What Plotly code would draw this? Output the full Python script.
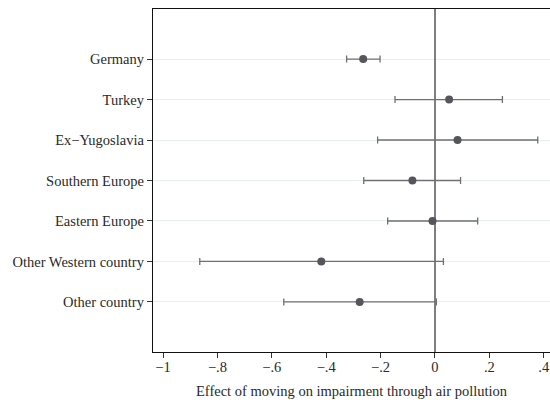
import plotly.graph_objects as go

# Origin groups and estimated effects with 95% confidence bounds
groups = ["Germany", "Turkey", "Ex\u2212Yugoslavia", "Southern Europe",
          "Eastern Europe", "Other Western country", "Other country"]
estimate = [-0.264, 0.052, 0.083, -0.083, -0.009, -0.418, -0.277]
ci_low = [-0.325, -0.147, -0.211, -0.262, -0.174, -0.865, -0.556]
ci_high = [-0.202, 0.248, 0.378, 0.094, 0.157, 0.031, 0.005]

x_ticks = [-1, -0.8, -0.6, -0.4, -0.2, 0, 0.2, 0.4]
x_tick_labels = ["\u22121", "\u2212.8", "\u2212.6", "\u2212.4", "\u2212.2", "0", ".2", ".4"]

pos = list(range(1, len(groups) + 1))
err_plus = [h - e for h, e in zip(ci_high, estimate)]
err_minus = [e - l for e, l in zip(estimate, ci_low)]

font = "Liberation Serif, Times New Roman, serif"

fig = go.Figure()
fig.add_trace(go.Scatter(
    x=estimate, y=pos, mode="markers",
    marker=dict(color="#55565b", size=8),
    error_x=dict(type="data", symmetric=False, array=err_plus, arrayminus=err_minus,
                 color="#6f7072", thickness=1.3, width=3.5),
    showlegend=False, hoverinfo="skip",
))

fig.update_layout(
    width=550, height=403,
    margin=dict(l=153, r=0, t=9, b=51),
    paper_bgcolor="white", plot_bgcolor="white",
    font=dict(family=font, size=14.5, color="#2a2a2a"),
    xaxis=dict(
        range=[-1.037, 0.423],
        tickvals=x_ticks, ticktext=x_tick_labels,
        ticks="outside", ticklen=5, tickcolor="#333333",
        ticklabelstandoff=-4,
        showline=True, linecolor="#111111", linewidth=1.3, mirror=True,
        showgrid=False,
        zeroline=True, zerolinecolor="#7f7f7f", zerolinewidth=1.5,
        title=dict(text="Effect of moving on impairment through air pollution",
                   font=dict(size=14.5), standoff=12),
        tickfont=dict(size=14.5),
    ),
    yaxis=dict(
        range=[8.236, -0.236],
        tickvals=pos, ticktext=groups,
        ticks="outside", ticklen=5, tickcolor="#333333",
        showline=True, linecolor="#111111", linewidth=1.3,
        showgrid=True, gridcolor="#e4f0f2", gridwidth=1,
        zeroline=False,
        tickfont=dict(size=14.5),
    ),
)

fig.write_html("out.html")
